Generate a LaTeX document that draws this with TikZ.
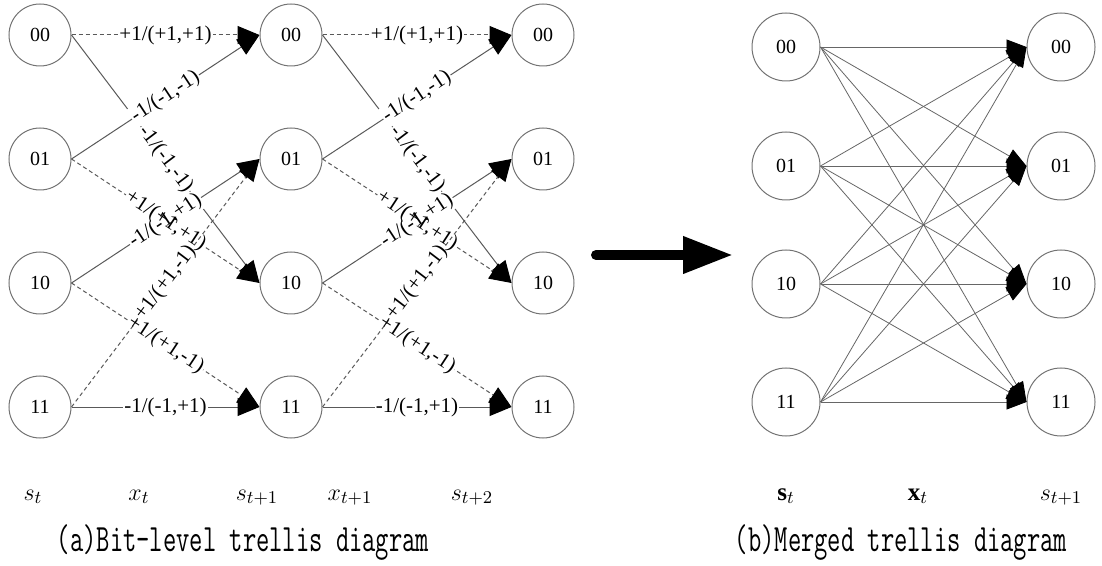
\documentclass[tikz,border=0pt]{standalone}
\usepackage{fontspec}
\setmainfont{Liberation Serif}
\usetikzlibrary{arrows.meta}

\tikzset{
  state/.style={circle, draw=black!55, line width=0.5pt, minimum size=31pt, inner sep=0pt, font=\fontsize{10}{12}\selectfont},
  bigstate/.style={state, minimum size=34pt},
  trans/.style={draw=black!65, line width=0.5pt, -{Triangle[length=11pt,width=9pt,color=black]}},
  merge/.style={draw=black!60, line width=0.4pt, -{Triangle[length=10pt,width=7.5pt,color=black]}},
  pluspath/.style={dash pattern=on 2pt off 1.5pt},
  minuspath/.style={},
  lab/.style={sloped, midway, inner sep=0.6pt, font=\fontsize{10.5}{12}\selectfont},
  timelab/.style={anchor=base, font=\fontsize{12.5}{14}\selectfont},
  caption/.style={anchor=base, inner sep=0pt, font=\ttfamily\fontsize{12.9}{15}\selectfont}
}
\newcommand{\tallcap}[1]{\scalebox{1}[1.5]{#1}}

\begin{document}
\begin{tikzpicture}[x=0.5pt, y=-0.5pt]
        \useasboundingbox (0,0) rectangle (1102,566);

        % (a) bit-level trellis: states
        \foreach \col/\x in {1/40,2/291,3/543}
          \foreach \r/\y/\s in {0/35/00,1/159/01,2/283/10,3/407/11}
            \node[state] (l\col\r) at (\x,\y) {\s};

        % transitions, dashed for input +1 (white boxes first, text on top)
        \def\bitedges{0/0/pluspath/+/+/+, 0/2/minuspath/-/-/-, 1/0/minuspath/-/-/-, 1/2/pluspath/+/+/+,
                      2/1/minuspath/-/-/+, 2/3/pluspath/+/+/-, 3/1/pluspath/+/+/-, 3/3/minuspath/-/-/+}
        \foreach \col/\nxt in {1/2,2/3}
          \foreach \a/\b/\ty/\inp/\oa/\ob in \bitedges
            \draw[trans,\ty] (l\col\a.east) -- node[lab, fill=white, text opacity=0] {\inp1/(\oa1,\ob1)} (l\nxt\b.west);
        \foreach \col/\nxt in {1/2,2/3}
          \foreach \a/\b/\ty/\inp/\oa/\ob in \bitedges
            \path (l\col\a.east) -- node[lab] {\inp1/(\oa1,\ob1)} (l\nxt\b.west);

        % time labels
        \node[timelab] (st) at (33,500) {$s_t$};
        \node[timelab] (xt) at (139,500) {$x_t$};
        \node[timelab] (st1) at (257,500) {$s_{t+1}$};
        \node[timelab] (xt1) at (350,500) {$x_{t+1}$};
        \node[timelab] (st2) at (472,500) {$s_{t+2}$};
        \node[caption] (capa) at (243,551) {\tallcap{(a)Bit-level trellis diagram}};

        % big arrow between the two parts
        \coordinate (arrowstart) at (596,255);
        \coordinate (arrowend) at (733,255);
        \draw[line width=5pt, line cap=round, -{Triangle[length=25pt,width=17.5pt]}] (arrowstart) -- (arrowend);

        % (b) merged trellis
        \foreach \r/\y/\s in {0/47/00,1/166/01,2/284/10,3/402/11} {
          \node[bigstate] (m\r) at (786,\y) {\s};
          \node[bigstate] (n\r) at (1061,\y) {\s};
        }
        \foreach \a in {0,...,3}
          \foreach \b in {0,...,3}
            \draw[merge] (m\a.east) -- (n\b.west);

        \node[timelab] (bst) at (786,500) {$\mathbf{s}_t$};
        \node[timelab] (bxt) at (918,500) {$\mathbf{x}_t$};
        \node[timelab] (bst1) at (1061,500) {$s_{t+1}$};
        \node[caption] (capb) at (901,551) {\tallcap{(b)Merged trellis diagram}};

    \end{tikzpicture}
\end{document}
